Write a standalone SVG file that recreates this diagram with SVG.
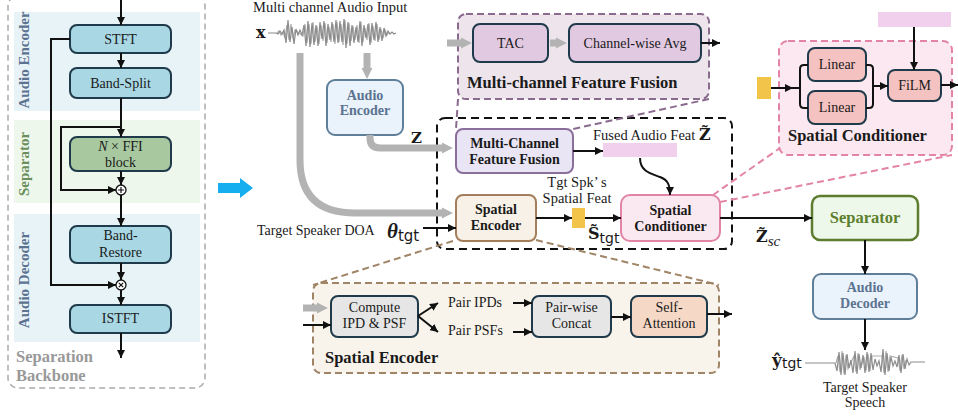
<svg xmlns="http://www.w3.org/2000/svg" width="958" height="418" viewBox="0 0 958 418">
<defs>
<marker id="ah" viewBox="0 0 10 10" refX="10" refY="5" markerUnits="userSpaceOnUse" markerWidth="8" markerHeight="8" orient="auto"><path d="M0,0 L10,5 L0,10 z" fill="#111"/></marker>
<marker id="gh" viewBox="0 0 10 10" refX="1" refY="5" markerUnits="userSpaceOnUse" markerWidth="11" markerHeight="14" orient="auto"><path d="M0,0 L10,5 L0,10 z" fill="#b3b3b3"/></marker>
<style>
text{font-family:"Liberation Serif","DejaVu Serif",serif;fill:#1a1a1a}
.t14{font-size:14px}
.b{font-weight:bold}
.c{text-anchor:middle}
.m{font-family:"DejaVu Serif","Liberation Serif",serif;font-weight:bold}
.sub{font-family:"DejaVu Sans","Liberation Sans",sans-serif}
.blk{fill:#a9d8e4;stroke:#1f3a4a;stroke-width:2}
.pk{fill:#f4c2c0;stroke:#1f3a4a;stroke-width:2}
.gy{fill:#e6e6e6;stroke:#1f3a4a;stroke-width:2}
.ln{fill:none;stroke:#111;stroke-width:2}
.gl{fill:none;stroke:#b3b3b3;stroke-width:7}
.wave{fill:none;stroke:#8c8c8c;stroke-width:1.2}
</style>
</defs>

<!-- Left panel: separation backbone -->
<g id="backbone">
<rect x="8" y="-4" width="197" height="392" rx="10" fill="#fff" stroke="#aaa" stroke-width="1.5" stroke-dasharray="6 4"/>
<rect x="14" y="12" width="186" height="99" fill="#e8f3f8"/>
<rect x="14" y="120" width="186" height="83" fill="#eef7ec"/>
<rect x="14" y="214" width="186" height="128" fill="#e8f3f8"/>
<text class="b c" font-size="15" style="fill:#5b7290" transform="translate(29,60) rotate(-90)">Audio Encoder</text>
<text class="b c" font-size="15" style="fill:#6b8f5b" transform="translate(29,164) rotate(-90)">Separator</text>
<text class="b c" font-size="15" style="fill:#5b7290" transform="translate(29,280) rotate(-90)">Audio Decoder</text>
<text class="b" font-size="16.5" x="16" y="362" style="fill:#999">Separation</text>
<text class="b" font-size="16.5" x="16" y="381" style="fill:#999">Backbone</text>
</g>
<g id="stft"><rect class="blk" x="70" y="25" width="101" height="28" rx="7"/><text class="t14 c" x="120.5" y="44">STFT</text></g>
<g id="bandsplit"><rect class="blk" x="70" y="68" width="101" height="30" rx="7"/><text class="t14 c" x="120.5" y="88">Band-Split</text></g>
<g id="ffi"><rect x="70" y="137" width="101" height="34" rx="7" fill="#a8c8a0" stroke="#1f3a4a" stroke-width="2"/><text class="t14 c" x="120.5" y="151"><tspan font-style="italic">N</tspan> × FFI</text><text class="t14 c" x="120.5" y="167">block</text></g>
<g id="plus"><circle cx="121" cy="190" r="5" fill="#fff" stroke="#111" stroke-width="1.3"/><path d="M118 190 H124 M121 187 V193" stroke="#111" stroke-width="1.2"/></g>
<g id="bandrestore"><rect class="blk" x="70" y="226" width="101" height="37" rx="7"/><text class="t14 c" x="120.5" y="240">Band-</text><text class="t14 c" x="120.5" y="257">Restore</text></g>
<g id="times"><circle cx="121" cy="285" r="5" fill="#fff" stroke="#111" stroke-width="1.3"/><path d="M118.8 282.8 L123.2 287.2 M123.2 282.8 L118.8 287.2" stroke="#111" stroke-width="1.2"/></g>
<g id="istft"><rect class="blk" x="70" y="305" width="101" height="28" rx="7"/><text class="t14 c" x="120.5" y="323">ISTFT</text></g>

<g id="bluearrow"><polygon points="218,183 240,183 240,178 253,188 240,198 240,193 218,193" fill="#17aef0"/></g>

<!-- Middle nodes -->
<g id="input">
<text font-size="14.5" x="253" y="12">Multi channel Audio Input</text>
<text class="m" font-size="16" x="256" y="38">x</text>
<path class="wave" d="M268 33 H276 L278 34 L280 31 L282 34 L284 30 L286 43 L288 20 L290 42 L292 27 L294 44 L296 29 L298 35 L300 30 L302 35 L304 25 L306 46 L308 21 L310 47 L312 23 L314 45 L316 25 L318 46 L320 22 L322 39 L324 21 L326 46 L328 24 L330 40 L332 22 L334 42 L336 20 L338 43 L340 21 L342 42 L344 19 L346 48 L348 22 L350 46 L352 25 L354 43 L356 27 L358 42 L360 21 L362 46 L364 25 L366 38 L368 24 L370 45 L372 23 L374 40 L376 22 L378 42 L380 27 L382 41 L384 28 L386 36 L388 31 L390 34 L392 32 L394 34 L396 33"/>
<path class="wave" opacity="0.7" d="M277 33 L279 31 L281 35 L283 32 L285 38 L287 25 L289 40 L291 24 L293 39 L295 30 L303 36 L305 24 L307 43 L309 24 L311 44 L313 22 L315 42 L317 26 L319 44 L321 25 L323 41 L325 23 L327 43 L329 27 L331 42 L333 24 L335 44 L337 22 L339 42 L341 24 L343 45 L345 20 L347 44 L349 23 L351 41 L353 26 L355 40 L357 25 L359 43 L361 22 L363 42 L365 28 L367 40 L369 23 L371 43 L373 26 L375 41 L377 24 L379 40 L381 29 L383 38 L385 30 L387 35 L389 32"/>
</g>
<g id="audioenc"><rect x="327" y="80" width="76" height="55" rx="8" fill="#eaf3fb" stroke="#5f7e98" stroke-width="2"/><text class="t14 b c" x="365" y="100" style="fill:#5b7290">Audio</text><text class="t14 b c" x="365" y="115" style="fill:#5b7290">Encoder</text></g>
<text class="m" font-size="15" x="411" y="143">Z</text>

<g id="mcff-detail">
<rect x="458" y="14" width="251" height="85" rx="8" fill="#ede4ec" stroke="#8a6a8e" stroke-width="2" stroke-dasharray="7 4"/>
<text class="b" font-size="16.5" x="467" y="88">Multi-channel Feature Fusion</text>
</g>
<g id="tac"><rect x="473" y="24" width="75" height="38" rx="7" fill="#e2c9e2" stroke="#1f3a4a" stroke-width="2"/><text class="t14 c" x="510.5" y="48">TAC</text></g>
<g id="chavg"><rect x="569" y="24" width="132" height="38" rx="7" fill="#e2c9e2" stroke="#1f3a4a" stroke-width="2"/><text class="t14 c" x="635" y="48">Channel-wise Avg</text></g>

<g id="dashedgroup"><rect x="437" y="118" width="295" height="131" rx="8" fill="none" stroke="#111" stroke-width="2" stroke-dasharray="8 5"/></g>

<g id="mcff"><rect x="456" y="129" width="117" height="44" rx="7" fill="#e9e5f5" stroke="#8a6e9c" stroke-width="2"/><text class="t14 b c" x="514.5" y="148">Multi-Channel</text><text class="t14 b c" x="514.5" y="164">Feature Fusion</text></g>
<g id="fusedfeat">
<text font-size="14.5" x="593" y="140">Fused Audio Feat <tspan class="m" font-size="16">Z̃</tspan></text>
<rect x="603" y="143" width="74" height="14" fill="#f0d0ec"/>
</g>

<g id="spatialenc"><rect x="456" y="195" width="80" height="46" rx="7" fill="#f8f1e7" stroke="#a47e5a" stroke-width="2"/><text class="t14 b c" x="496" y="214">Spatial</text><text class="t14 b c" x="496" y="230">Encoder</text></g>
<g id="doa">
<text class="t14" x="257" y="235">Target Speaker DOA</text>
<text x="387" y="238"><tspan class="b" font-style="italic" font-size="21">θ</tspan><tspan class="sub" font-size="15" dy="3">tgt</tspan></text>
</g>
<g id="spkfeat">
<text class="c" font-size="14.5" x="577" y="187">Tgt Spk’ s</text>
<text class="c" font-size="14.5" x="577" y="203">Spatial Feat</text>
<rect x="572" y="208" width="13" height="20" fill="#f2c54a"/>
<text x="588" y="239"><tspan class="m" font-size="16">S̃</tspan><tspan class="sub" font-size="14" dy="4">tgt</tspan></text>
</g>
<g id="spatialcond"><rect x="621" y="195" width="99" height="46" rx="9" fill="#fbe9f1" stroke="#e384a6" stroke-width="2"/><text class="t14 b c" x="670.5" y="215">Spatial</text><text class="t14 b c" x="670.5" y="231">Conditioner</text></g>
<g id="zsc"><text x="756" y="242"><tspan class="m" font-size="16">Z̃</tspan><tspan font-style="italic" font-size="15" dy="4">sc</tspan></text></g>

<g id="separator"><rect x="812" y="196" width="106" height="44" rx="8" fill="#eef8ea" stroke="#5d7d2e" stroke-width="2.5"/><text class="b c" font-size="16.5" x="865" y="223" style="fill:#5c7f2e">Separator</text></g>
<g id="audiodec"><rect x="813" y="274" width="104" height="45" rx="8" fill="#eaf3fb" stroke="#5f7e98" stroke-width="2"/><text class="t14 b c" x="865" y="292" style="fill:#5b7290">Audio</text><text class="t14 b c" x="865" y="308" style="fill:#5b7290">Decoder</text></g>
<g id="output">
<text x="772" y="366"><tspan class="m" font-size="17">ŷ</tspan><tspan class="sub" font-size="14" dy="2">tgt</tspan></text>
<path class="wave" d="M805 363 H835 L837 371 L839 352 L841 375 L843 353 L845 375 L847 354 L849 368 L851 360 L853 373 L855 351 L857 374 L859 354 L861 368 L863 355 L865 373 L867 352 L869 372 L871 353 L873 370 L875 359 L877 366 L879 361 L881 372 L883 349 L885 375 L887 353 L889 371 L891 357 L893 366 L895 361 L897 367 L899 355 L901 373 L903 354 L905 369 L907 359 L909 365 L911 362 H925"/>
<path class="wave" opacity="0.7" d="M836 363 L838 356 L840 372 L842 351 L844 374 L846 355 L848 369 L854 356 L856 372 L858 353 L860 370 L864 357 L866 371 L868 354 L870 371 L872 356 L882 356 L884 373 L886 351 L888 372 L890 356 L898 358 L900 371 L902 355 L904 369 L906 360"/>
<text class="t14 c" x="865" y="392">Target Speaker</text>
<text class="t14 c" x="865" y="407">Speech</text>
</g>

<!-- Spatial conditioner detail -->
<g id="sc-detail">
<rect x="779" y="41" width="173" height="114" rx="9" fill="#fbe8f0" stroke="#e384a6" stroke-width="2" stroke-dasharray="7 4"/>
<text class="b" font-size="16.5" x="788" y="141">Spatial Conditioner</text>
<rect x="757" y="77" width="14" height="22" fill="#f2c54a"/>
<rect x="878" y="12" width="73" height="15" fill="#f0d0ec"/>
</g>
<g id="linear1"><rect class="pk" x="808" y="48" width="58" height="33" rx="7"/><text class="t14 c" x="837" y="69">Linear</text></g>
<g id="linear2"><rect class="pk" x="808" y="91" width="58" height="33" rx="7"/><text class="t14 c" x="837" y="112">Linear</text></g>
<g id="film"><rect class="pk" x="888" y="70" width="53" height="31" rx="7"/><text class="t14 c" x="914.5" y="90">FiLM</text></g>

<!-- Spatial encoder detail -->
<g id="se-detail">
<rect x="313" y="283" width="406" height="90" rx="8" fill="#f8f3eb" stroke="#a08466" stroke-width="2" stroke-dasharray="7 4"/>
<text class="b" font-size="16.5" x="325" y="363">Spatial Encoder</text>
<text class="t14" x="448" y="307">Pair IPDs</text>
<text class="t14" x="448" y="335">Pair PSFs</text>
</g>
<g id="compute"><rect class="gy" x="331" y="296" width="87" height="41" rx="7"/><text class="t14 c" x="374.5" y="312">Compute</text><text class="t14 c" x="374.5" y="328">IPD &amp; PSF</text></g>
<g id="concat"><rect class="gy" x="532" y="296" width="79" height="41" rx="7"/><text class="t14 c" x="571.5" y="312">Pair-wise</text><text class="t14 c" x="571.5" y="328">Concat</text></g>
<g id="selfatt"><rect x="631" y="296" width="76" height="41" rx="7" fill="#f5d9c6" stroke="#1f3a4a" stroke-width="2"/><text class="t14 c" x="669" y="312">Self-</text><text class="t14 c" x="669" y="328">Attention</text></g>

<!-- Connectors -->
<g id="connectors">
<path class="ln" d="M121 0 V25" marker-end="url(#ah)"/>
<path class="ln" d="M121 53 V68" marker-end="url(#ah)"/>
<path class="ln" d="M121 98 V137" marker-end="url(#ah)"/>
<path class="ln" d="M121 127 H61 V190 H116" marker-end="url(#ah)"/>
<path class="ln" d="M121 171 V185" marker-end="url(#ah)"/>
<path class="ln" d="M121 195 V226" marker-end="url(#ah)"/>
<path class="ln" d="M121 263 V280" marker-end="url(#ah)"/>
<path class="ln" d="M70 39 H51 V285 H116" marker-end="url(#ah)"/>
<path class="ln" d="M121 290 V305" marker-end="url(#ah)"/>
<path class="ln" d="M121 333 V358" marker-end="url(#ah)"/>
<path class="gl" d="M367 53 V69" marker-end="url(#gh)"/>
<path class="gl" d="M370 135 V138 Q370 148 380 148 H443" marker-end="url(#gh)"/>
<path class="gl" d="M300 53 V160 Q300 213 355 213 H443" marker-end="url(#gh)"/>
<path class="gl" d="M447 43 H462" marker-end="url(#gh)"/>
<path class="gl" d="M550 43 H557" marker-end="url(#gh)"/>
<path class="ln" d="M701 43 H720" marker-end="url(#ah)"/>
<path d="M458 99 L456 129 M709 99 L573 129" fill="none" stroke="#8a6a8e" stroke-width="2" stroke-dasharray="7 4"/>
<path d="M713 195 L780 148 M720 202 L952 155" fill="none" stroke="#e384a6" stroke-width="2" stroke-dasharray="7 4"/>
<path d="M453 241 L313 285 M536 240 L719 285" fill="none" stroke="#a08466" stroke-width="2" stroke-dasharray="7 4"/>
<path class="ln" d="M573 151 H603" marker-end="url(#ah)"/>
<path class="ln" d="M640 158 C640 172 652 174 660 177 C668 180 670 185 670 195" marker-end="url(#ah)"/>
<path class="ln" d="M423 228 H456" marker-end="url(#ah)"/>
<path class="ln" d="M536 218 H572" marker-end="url(#ah)"/>
<path class="ln" d="M585 218 H621" marker-end="url(#ah)"/>
<path class="ln" d="M720 218 H812" marker-end="url(#ah)"/>
<path class="ln" d="M865 240 V274" marker-end="url(#ah)"/>
<path class="ln" d="M865 319 V350" marker-end="url(#ah)"/>
<path class="ln" d="M771 88 H793" marker-end="url(#ah)"/>
<path class="ln" d="M793 88 H800"/>
<path class="ln" d="M808 65 H804 Q800 65 800 69 V104 Q800 108 804 108 H808"/>
<path class="ln" d="M866 65 H869 Q873 65 873 69 V104 Q873 108 869 108 H866"/>
<path class="ln" d="M873 86 H888" marker-end="url(#ah)"/>
<path class="ln" d="M914 27 V70" marker-end="url(#ah)"/>
<path class="ln" d="M941 85 H958" marker-end="url(#ah)"/>
<path class="gl" d="M303 308 H318" marker-end="url(#gh)"/>
<path class="ln" d="M303 325 H331" marker-end="url(#ah)"/>
<path class="ln" d="M418 316 L438 303" marker-end="url(#ah)"/>
<path class="ln" d="M418 316 L438 332" marker-end="url(#ah)"/>
<path class="ln" d="M513 303 H532" marker-end="url(#ah)"/>
<path class="ln" d="M513 332 H532" marker-end="url(#ah)"/>
<path class="ln" d="M611 317 H631" marker-end="url(#ah)"/>
<path class="ln" d="M707 314 H732" marker-end="url(#ah)"/>
</g>
</svg>
